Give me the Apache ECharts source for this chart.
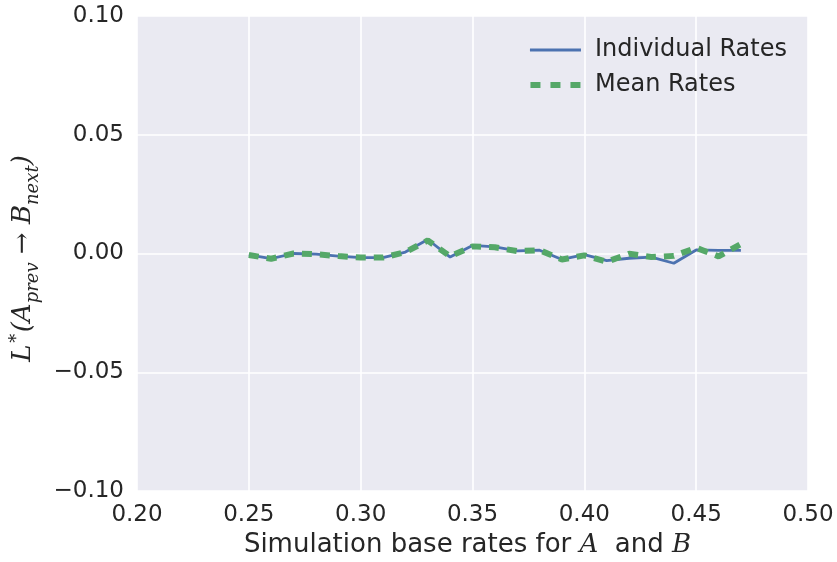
<!DOCTYPE html>
<html>
<head>
<meta charset="utf-8">
<script src="https://cdn.jsdelivr.net/npm/echarts@6/dist/echarts.min.js"></script>
<style>
html,body{margin:0;padding:0;background:#fff;}
#chart{width:837px;height:562px;}
</style>
</head>
<body>
<div id="chart"></div>
<script>
var baseRates = [0.25,0.26,0.27,0.28,0.29,0.30,0.31,0.32,0.33,0.34,0.35,0.36,0.37,0.38,0.39,0.40,0.41,0.42,0.43,0.44,0.45,0.46,0.47];
var individualRates = [-0.0006,-0.0022,0.0000,-0.0003,-0.0011,-0.0017,-0.0017,0.0006,0.0059,-0.0015,0.0034,0.0028,0.0011,0.0014,-0.0025,-0.0005,-0.0030,-0.0020,-0.0015,-0.0041,0.0015,0.0013,0.0013];
var meanRates = [-0.0006,-0.0022,0.0000,-0.0003,-0.0011,-0.0017,-0.0017,0.0006,0.0055,-0.0012,0.0030,0.0026,0.0010,0.0014,-0.0025,-0.0008,-0.0035,-0.0001,-0.0015,-0.0010,0.0024,-0.0012,0.0040];
var xTicks = {min:0.20, max:0.50, interval:0.05};
var yTicks = {min:-0.10, max:0.10, interval:0.05};
var seriesNames = ['Individual Rates','Mean Rates'];

function pairs(xs, ys){ return xs.map(function(x,i){return [x, ys[i]];}); }
function fmt(v){ var s = Math.abs(v) < 1e-9 ? '0.00' : v.toFixed(2); return s.replace('-', '\u2212'); }

var textColor = '#262626';
var font = 'DejaVu Sans';
var blue = '#4C72B0', green = '#55A868';
var chart = echarts.init(document.getElementById('chart'));
chart.setOption({
  backgroundColor: '#ffffff',
  animation: false,
  grid: {left:137, right:29, top:16, bottom:71, show:true, backgroundColor:'#EAEAF2', borderWidth:0, containLabel:false, outerBoundsMode:'none'},
  legend: {
    right: 45, top: 33, orient: 'vertical', itemGap: 11,
    itemWidth: 51, itemHeight: 6,
    textStyle: {fontFamily: font, fontSize: 24, color: textColor, padding:[0,0,0,9]},
    data: [
      {name: seriesNames[0], icon: 'path://M0,0h51v3h-51z', itemStyle:{color:blue}},
      {name: seriesNames[1], icon: 'path://M0,0h10v6h-10zM20,0h10v6h-10zM40,0h10v6h-10z', itemStyle:{color:green}}
    ]
  },
  xAxis: {
    type: 'value', min: xTicks.min, max: xTicks.max, interval: xTicks.interval,
    axisLine:{show:false}, axisTick:{show:false},
    splitLine:{show:true, lineStyle:{color:'#ffffff', width:1.6}},
    axisLabel:{fontFamily:font, fontSize:23, color:textColor, margin:13, formatter:fmt},
    name: '{t|Simulation base rates for }{i|A}{t|  and }{i|B}',
    nameLocation:'middle', nameGap: 41,
    nameTextStyle:{
      padding:[0,10,0,0],
      rich:{
        t:{fontFamily:font, fontSize:26, color:textColor},
        i:{fontFamily:'DejaVu Serif', fontStyle:'italic', fontSize:26, color:textColor}
      }
    }
  },
  yAxis: {
    type: 'value', min: yTicks.min, max: yTicks.max, interval: yTicks.interval,
    axisLine:{show:false}, axisTick:{show:false},
    splitLine:{show:true, lineStyle:{color:'#ffffff', width:1.6}},
    axisLabel:{fontFamily:font, fontSize:23, color:textColor, margin:13, formatter:fmt},
    name: '{m|L}{sup|\u2217}{m|(A}{sub|prev}{m| \u2192 B}{sub|next}{m|)}',
    nameLocation:'middle', nameGap: 95, nameRotate: 90,
    nameTextStyle:{
      padding:[0,10,0,0],
      rich:{
        m:{fontFamily:'DejaVu Serif', fontStyle:'italic', fontSize:26, color:textColor, lineHeight:38, verticalAlign:'middle'},
        sup:{fontFamily:'DejaVu Serif', fontSize:18, color:textColor, lineHeight:38, verticalAlign:'top'},
        sub:{fontFamily:'DejaVu Serif', fontStyle:'italic', fontSize:18, color:textColor, lineHeight:38, verticalAlign:'bottom'}
      }
    }
  },
  series: [
    {
      name: seriesNames[0], type:'line', data: pairs(baseRates, individualRates),
      showSymbol:false, symbol:'none', z:2,
      lineStyle:{color:blue, width:2.8}, itemStyle:{color:blue}
    },
    {
      name: seriesNames[1], type:'line', data: pairs(baseRates, meanRates),
      showSymbol:false, symbol:'none', z:3,
      lineStyle:{color:green, width:6, type:[10,8]}, itemStyle:{color:green}
    }
  ]
});
</script>
</body>
</html>
